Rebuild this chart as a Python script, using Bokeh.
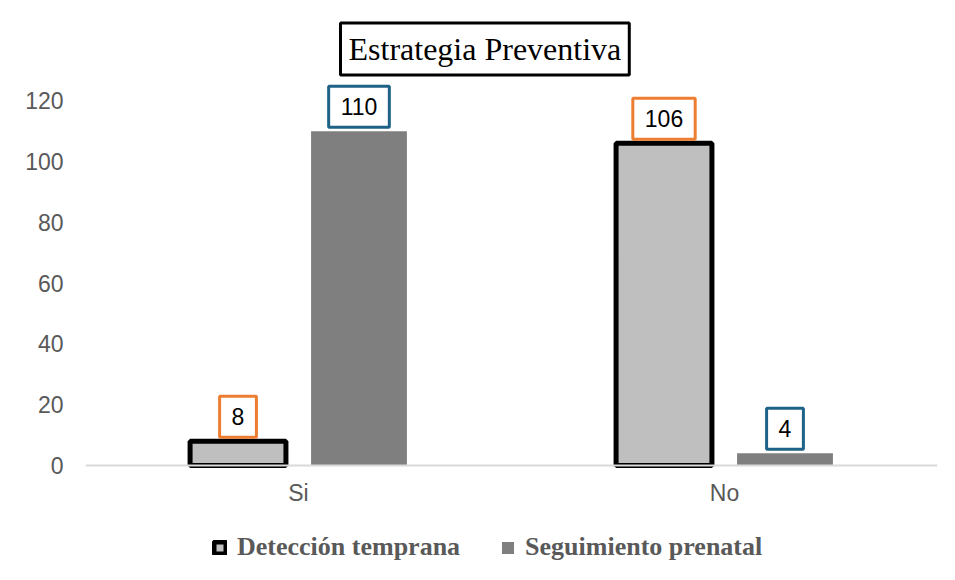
from bokeh.plotting import figure
from bokeh.models import (Range1d, FixedTicker, Label, Legend, LegendItem, ColumnDataSource)
from bokeh.embed import file_html
from bokeh.resources import INLINE

categories = ["Si", "No"]
deteccion = [8, 106]
seguimiento = [110, 4]
y_ticks = [0, 20, 40, 60, 80, 100, 120]
series_names = ["Detección temprana", "Seguimiento prenatal"]

centers = [i + 0.5 for i in range(len(categories))]
off = 0.142
bw = 0.225

p = figure(width=947, height=572, output_backend="svg", toolbar_location=None,
           x_range=Range1d(0, len(categories)), y_range=Range1d(-35.2, 128),
           min_border_left=85, min_border_right=10, min_border_top=76, min_border_bottom=0)
p.outline_line_color = None
p.xgrid.grid_line_color = None
p.ygrid.grid_line_color = None

src_d = ColumnDataSource(dict(x=[c - off for c in centers], top=deteccion))
src_s = ColumnDataSource(dict(x=[c + off for c in centers], top=seguimiento))

r_d = p.vbar(x="x", top="top", width=bw, bottom=0, source=src_d,
             fill_color="#bfbfbf", line_color="black", line_width=5)
r_s = p.vbar(x="x", top="top", width=bw, bottom=0, source=src_s,
             fill_color="#7f7f7f", line_color=None)

# axes
p.yaxis.ticker = FixedTicker(ticks=y_ticks)
p.yaxis.axis_line_color = None
p.yaxis.major_tick_line_color = None
p.yaxis.minor_tick_line_color = None
p.yaxis.major_label_text_font = "Liberation Sans"
p.yaxis.major_label_text_font_size = "23px"
p.yaxis.major_label_text_color = "#595959"
p.yaxis.major_label_standoff = 16

p.xaxis.fixed_location = 0
p.xaxis.ticker = FixedTicker(ticks=centers)
p.xaxis.major_label_overrides = {c: n for c, n in zip(centers, categories)}
p.xaxis.axis_line_color = "#d9d9d9"
p.xaxis.axis_line_width = 2
p.xaxis.major_tick_line_color = None
p.xaxis.minor_tick_line_color = None
p.xaxis.major_label_text_font = "Liberation Sans"
p.xaxis.major_label_text_font_size = "23px"
p.xaxis.major_label_text_color = "#595959"
p.xaxis.major_label_standoff = 8

# data labels
for xs, vals, col in [(src_d.data["x"], deteccion, "#ed7d31"), (src_s.data["x"], seguimiento, "#1f6287")]:
    for xv, v in zip(xs, vals):
        p.add_layout(Label(x=xv, y=v, text=str(v), text_align="center", text_baseline="bottom",
                           y_offset=4, text_font="Liberation Sans", text_font_size="23px",
                           text_color="black", padding=12, border_line_color=col,
                           border_line_width=3, background_fill_color="white"))

# title
p.title.text = "Estrategia Preventiva"
p.title.align = "left"
p.title.offset = 255
p.title.standoff = 3
p.title.text_font = "Liberation Serif"
p.title.text_font_style = "normal"
p.title.text_font_size = "32px"
p.title.text_color = "black"
p.title.border_line_color = "black"
p.title.border_line_width = 3
p.title.padding = 8

legend = Legend(items=[LegendItem(label=series_names[0], renderers=[r_d]),
                       LegendItem(label=series_names[1], renderers=[r_s])],
                orientation="horizontal", location=(127, 10),
                label_text_font="Liberation Serif", label_text_font_style="bold",
                label_text_color="#595959", label_text_font_size="26px",
                glyph_width=15, glyph_height=15, spacing=40, label_standoff=10,
                border_line_color=None, background_fill_alpha=0, padding=0, margin=0)
p.add_layout(legend, "center")

open("out.html", "w").write(file_html(p, INLINE))
